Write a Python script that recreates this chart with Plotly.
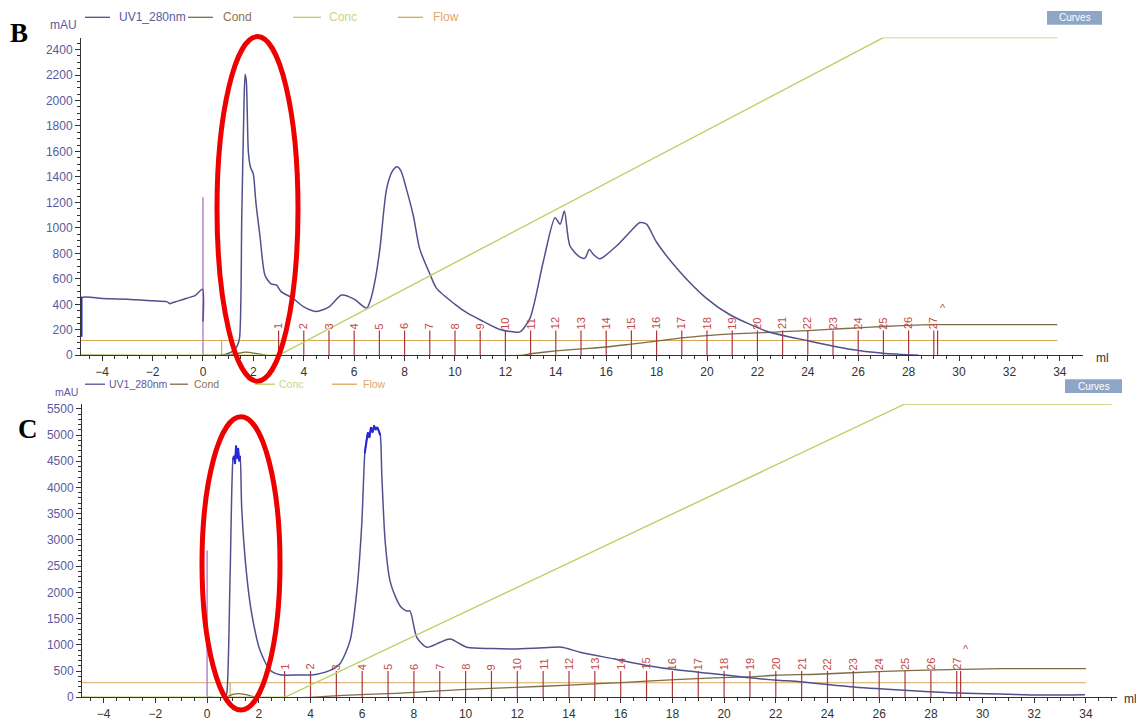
import numpy as np
import plotly.graph_objects as go

W, H = 1136, 727

# ---------------- Panel B data ----------------
b_uv_x = [-4.84, -4.84, -4.0, -3.0, -2.0, -1.44, -1.3, -1.24, -1.0, -0.65, -0.3, -0.02, 0.0, None,
          0.0, 0.7, 1.0, 1.2, 1.35, 1.45, 1.54, 1.62, 1.67, 1.72, 1.8, 1.88, 1.93, 2.0, 2.1, 2.26, 2.46,
          2.7, 2.92, 3.1, 3.57, 4.0, 4.51, 5.0, 5.5, 6.0, 6.35, 6.5, 6.63, 6.82, 7.02, 7.28, 7.5, 7.69,
          7.85, 8.08, 8.35, 8.6, 9.0, 9.27, 10.0, 10.5, 11.12, 11.79, 12.3, 12.58, 12.98, 13.5, 13.97,
          14.17, 14.34, 14.56, 14.96, 15.16, 15.33, 15.5, 15.75, 16.42, 17.0, 17.34, 17.6, 18.0,
          18.93, 19.98, 20.91, 22.37, 23.96, 25.67, 26.98, 28.4]
b_uv_y = [145, 450, 445, 440, 428, 421, 405, 410, 425, 447, 470, 519, 265, None,
          0, 0, 15, 35, 70, 135, 1093, 1900, 2205, 2150, 1600, 1480, 1455, 1420, 1200, 938, 628,
          560, 550, 500, 447, 380, 344, 380, 473, 440, 385, 370, 423, 578, 835, 1300, 1440, 1480,
          1450, 1300, 1093, 835, 640, 525, 400, 330, 266, 202, 184, 184, 292, 732, 1080,
          1029, 1132, 860, 770, 763, 830, 790, 757, 860, 980, 1042, 1030, 887,
          654, 447, 318, 189, 116, 47, 16, 0]
b_start_x = [-4.84, -4.84]
b_start_y = [145, 460]
b_cond_x = [-4.84, 0.9, 1.3, 1.7, 2.1, 2.5, 12.6, 13.0, 14.0, 15.0, 16.0, 17.0, 18.0, 19.0, 20.0,
            21.0, 22.0, 23.0, 24.0, 25.0, 26.0, 27.0, 28.0, 29.0, 33.9]
b_cond_y = [0, 0, 12, 25, 15, 0, 0, 12, 34, 50, 65, 88, 111, 137, 155,
            168, 176, 185, 194, 205, 215, 226, 235, 240, 240]
b_conc_x = [-4.84, 3.0, 27.0, 33.9]
b_conc_y = [0, 0, 100, 100]
b_flow_x = [-4.84, 0.74, 0.74, 0.74, 33.9]
b_flow_y = [116, 116, 0, 116, 116]
b_inject_x = [0, 0]
b_inject_y = [0, 1240]

# ---------------- Panel C data ----------------
c_uv_x = [0, 0.7, 0.76, 0.89, 1.0, 1.04, 1.08, 1.12, 1.16, 1.2, 1.24, 1.28, 1.34, 1.53, 1.73, 2.05,
          2.44, 2.82, 3.5, 4.2, 4.76, 5.14, 5.53, 5.79, 5.98, 6.1, 6.16, 6.22, 6.28, 6.34, 6.40, 6.46,
          6.52, 6.58, 6.64, 6.70, 6.76, 6.89, 7.08, 7.3, 7.5, 7.72, 7.85, 8.11, 8.5, 9.0, 9.4, 10.05,
          11.0, 11.85, 13.0, 13.72, 14.43, 15.72, 17.0, 18.3, 19.58, 20.88, 22.04, 22.94, 24.87,
          26.8, 28.74, 30.68, 32.2, 33.96]
c_uv_y = [0, 0, 75, 2335, 4530, 4600, 4450, 4800, 4550, 4750, 4500, 4600, 3590, 2335, 1582, 890,
          514, 430, 425, 435, 514, 640, 1080, 2020, 3277, 4657, 4900, 5050, 4950, 5150, 5050, 5180,
          5100, 5150, 5080, 5000, 4218, 2962, 2209, 1900, 1720, 1645, 1645, 1143, 954, 1045, 1111, 954,
          930, 923, 945, 954, 860, 734, 608, 514, 451, 377, 326, 296, 201,
          138, 88, 62, 43, 50]
c_cond_x = [-4.84, 0.7, 1.0, 1.2, 1.5, 1.9, 4.0, 5.5, 7.3, 10.0, 12.0, 14.0, 16.0, 17.0, 19.6, 21.0,
            22.0, 23.6, 26.2, 28.7, 30.7, 34.0]
c_cond_y = [0, 0, 55, 70, 50, 0, 0, 43, 75, 150, 190, 232, 280, 307, 370, 390,
            420, 439, 495, 527, 546, 546]
c_conc_x = [-4.84, 3.0, 27.0, 35.0]
c_conc_y = [0, 0, 100, 100]
c_flow_x = [-4.84, 0.89, 0.89, 0.89, 34.0]
c_flow_y = [277, 277, 0, 277, 277]
c_inject_x = [0, 0]
c_inject_y = [0, 2800]

# Fraction marks (same collection scheme in both runs)
frac_x = [3, 4, 5, 6, 7, 8, 9, 10, 11, 12, 13, 14, 15, 16, 17, 18, 19, 20, 21, 22, 23, 24, 25, 26,
          27, 28, 29.0]
frac_labels = [str(i) for i in range(1, 28)]
frac_end_x = 29.15
b_frac_h = 195
c_frac_h = 500

x_ticks = list(range(-4, 35, 2))

UV_C = "#50508e"
UV_SAT = "#2828d8"
COND_C = "#7c6c48"
CONC_C = "#b9d264"
FLOW_C = "#d9a65c"
INJ_C = "#b27cc8"
FRAC_C = "#a83a3a"
FRAC_T = "#c44848"
YTXT = "#5a5a9c"


def px_x(p):
    return p / W


def px_y(p):
    return 1 - p / H


fig = go.Figure()


def add_panel(xa, ya, ya2, uv_x, uv_y, cond_x, cond_y, conc_x, conc_y, flow_x, flow_y,
              inj_x, inj_y, frac_h):
    fig.add_trace(go.Scatter(x=flow_x, y=flow_y, mode="lines", line=dict(color=FLOW_C, width=1.2),
                             xaxis=xa, yaxis=ya, showlegend=False, hoverinfo="skip"))
    fig.add_trace(go.Scatter(x=conc_x, y=conc_y, mode="lines", line=dict(color=CONC_C, width=1.4),
                             xaxis=xa, yaxis=ya2, showlegend=False, hoverinfo="skip"))
    fig.add_trace(go.Scatter(x=cond_x, y=cond_y, mode="lines",
                             line=dict(color=COND_C, width=1.3, shape="spline", smoothing=0.6),
                             xaxis=xa, yaxis=ya, showlegend=False, hoverinfo="skip"))
    # fraction collection marks
    fx, fy = [], []
    for v in frac_x + [frac_end_x]:
        fx += [v, v, None]
        fy += [0, frac_h, None]
    fig.add_trace(go.Scatter(x=fx, y=fy, mode="lines", line=dict(color=FRAC_C, width=1.2),
                             xaxis=xa, yaxis=ya, showlegend=False, hoverinfo="skip"))
    fig.add_trace(go.Scatter(x=inj_x, y=inj_y, mode="lines", line=dict(color=INJ_C, width=1.4),
                             xaxis=xa, yaxis=ya, showlegend=False, hoverinfo="skip"))
    fig.add_trace(go.Scatter(x=uv_x, y=uv_y, mode="lines",
                             line=dict(color=UV_C, width=1.5, shape="spline", smoothing=0.7),
                             xaxis=xa, yaxis=ya, showlegend=False, hoverinfo="skip",
                             connectgaps=False))
    for v, t in zip(frac_x, frac_labels):
        fig.add_annotation(x=v, y=frac_h, xref=xa, yref=ya, text=t, showarrow=False,
                           textangle=-90, yanchor="bottom", xanchor="center",
                           font=dict(size=11, color=FRAC_T, family="Liberation Sans"),
                           borderpad=0, yshift=0)
    fig.add_annotation(x=frac_end_x, y=frac_h, xref=xa, yref=ya, text="^", showarrow=False,
                       yanchor="bottom", xanchor="left", yshift=14,
                       font=dict(size=11, color=FRAC_T, family="Liberation Sans"))


add_panel("x", "y", "y2", b_uv_x, b_uv_y, b_cond_x, b_cond_y, b_conc_x, b_conc_y,
          b_flow_x, b_flow_y, b_inject_x, b_inject_y, b_frac_h)
fig.add_trace(go.Scatter(x=b_start_x, y=b_start_y, mode="lines", line=dict(color=UV_SAT, width=3),
                         xaxis="x", yaxis="y", showlegend=False, hoverinfo="skip"))

add_panel("x2", "y3", "y4", c_uv_x, c_uv_y, c_cond_x, c_cond_y, c_conc_x, c_conc_y,
          c_flow_x, c_flow_y, c_inject_x, c_inject_y, c_frac_h)
# saturated detector region drawn highlighted
c_arr = np.array(c_uv_y, dtype=float)
c_sat = [float(v) if v > 4400 else None for v in c_arr]
fig.add_trace(go.Scatter(x=c_uv_x, y=c_sat, mode="lines", line=dict(color=UV_SAT, width=2),
                         xaxis="x2", yaxis="y3", showlegend=False, hoverinfo="skip"))

axis_common = dict(showgrid=False, zeroline=False, showline=True, linecolor="#333333",
                   linewidth=1, ticks="outside", tickcolor="#333333", ticklen=5)

fig.update_layout(
    width=W, height=H, margin=dict(l=0, r=0, t=0, b=0),
    paper_bgcolor="white", plot_bgcolor="white", showlegend=False,
    font=dict(family="Liberation Sans", size=12),
    xaxis=dict(domain=[px_x(81), px_x(1083)], range=[-4.84, 34.92], anchor="y",
               tickvals=x_ticks, tickfont=dict(size=12, color="#333333"),
               minor=dict(dtick=0.5, tick0=0, ticks="outside", ticklen=3, tickcolor="#333333"),
               **axis_common),
    yaxis=dict(domain=[px_y(357.7), px_y(36)], range=[0, 2494], anchor="x",
               tickvals=list(range(0, 2401, 200)), tickfont=dict(size=12, color=YTXT),
               minor=dict(dtick=50, tick0=0, ticks="outside", ticklen=3, tickcolor="#333333"),
               **axis_common),
    yaxis2=dict(overlaying="y", range=[0, 100], visible=False, anchor="x"),
    xaxis2=dict(domain=[px_x(82), px_x(1117)], range=[-4.84, 35.2], anchor="y3",
                tickvals=x_ticks, tickfont=dict(size=12, color="#333333"),
                minor=dict(dtick=0.5, tick0=0, ticks="outside", ticklen=3, tickcolor="#333333"),
                **axis_common),
    yaxis3=dict(domain=[px_y(704), px_y(407)], range=[0, 5593], anchor="x2",
                tickvals=list(range(0, 5501, 500)), tickfont=dict(size=12, color=YTXT),
                minor=dict(dtick=100, tick0=0, ticks="outside", ticklen=3, tickcolor="#333333"),
                **axis_common),
    yaxis4=dict(overlaying="y3", range=[0, 100], visible=False, anchor="x2"),
)

shapes = []
annos = []


def legend(y_px, items, fs):
    for (lx0, lx1, tx, txt, col, tcol) in items:
        shapes.append(dict(type="line", xref="paper", yref="paper", x0=px_x(lx0), x1=px_x(lx1),
                           y0=px_y(y_px), y1=px_y(y_px), line=dict(color=col, width=1.3)))
        annos.append(dict(x=px_x(tx), y=px_y(y_px), xref="paper", yref="paper", text=txt,
                          showarrow=False, xanchor="left", yanchor="middle",
                          font=dict(size=fs, color=tcol, family="Liberation Sans")))


legend(15.5, [(85, 110, 117, "UV1_280nm", UV_C, YTXT),
              (188, 213, 221, "Cond", COND_C, "#8a7350"),
              (293, 321, 327, "Conc", CONC_C, "#c2d888"),
              (398, 423, 431, "Flow", FLOW_C, "#dea868")], 12)
legend(387, [(85, 105, 107, "UV1_280nm", UV_C, YTXT),
             (170, 188, 192, "Cond", COND_C, "#8a7350"),
             (255, 275, 277, "Conc", CONC_C, "#c2d888"),
             (332, 357, 361, "Flow", FLOW_C, "#dea868")], 10.5)

# unit labels
annos.append(dict(x=px_x(79), y=px_y(23), xref="paper", yref="paper", text="mAU", showarrow=False,
                  xanchor="right", yanchor="middle", font=dict(size=12, color=YTXT)))
annos.append(dict(x=px_x(80), y=px_y(395), xref="paper", yref="paper", text="mAU", showarrow=False,
                  xanchor="right", yanchor="middle", font=dict(size=10.5, color=YTXT)))
annos.append(dict(x=px_x(1094), y=px_y(360), xref="paper", yref="paper", text="ml", showarrow=False,
                  xanchor="left", yanchor="middle", font=dict(size=12, color="#333333")))
annos.append(dict(x=px_x(1122), y=px_y(706), xref="paper", yref="paper", text="ml", showarrow=False,
                  xanchor="left", yanchor="middle", font=dict(size=12, color="#333333")))

# panel letters
annos.append(dict(x=px_x(19), y=px_y(31), xref="paper", yref="paper", text="<b>B</b>",
                  showarrow=False, xanchor="center", yanchor="middle",
                  font=dict(size=27, color="black", family="Liberation Serif")))
annos.append(dict(x=px_x(28), y=px_y(432), xref="paper", yref="paper", text="<b>C</b>",
                  showarrow=False, xanchor="center", yanchor="middle",
                  font=dict(size=27, color="black", family="Liberation Serif")))

# "Curves" buttons
for (bx0, bx1, by0, by1) in [(1047, 1102, 9, 23), (1065, 1122, 382, 396)]:
    shapes.append(dict(type="rect", xref="paper", yref="paper", x0=px_x(bx0), x1=px_x(bx1),
                       y0=px_y(by1), y1=px_y(by0), fillcolor="#8ea6c6", line=dict(width=0)))
    annos.append(dict(x=px_x((bx0 + bx1) / 2), y=px_y((by0 + by1) / 2), xref="paper", yref="paper",
                      text="Curves", showarrow=False, xanchor="center", yanchor="middle",
                      font=dict(size=10, color="white")))

# highlight ellipses around the first peak
for (ex0, ex1, ey0, ey1) in [(217, 298, 35, 384), (202, 280, 420, 717)]:
    shapes.append(dict(type="circle", xref="paper", yref="paper", x0=px_x(ex0), x1=px_x(ex1),
                       y0=px_y(ey1), y1=px_y(ey0), line=dict(color="#ee0000", width=5)))

fig.update_layout(shapes=shapes)
for a in annos:
    fig.add_annotation(**a)

fig.write_html("out.html")
